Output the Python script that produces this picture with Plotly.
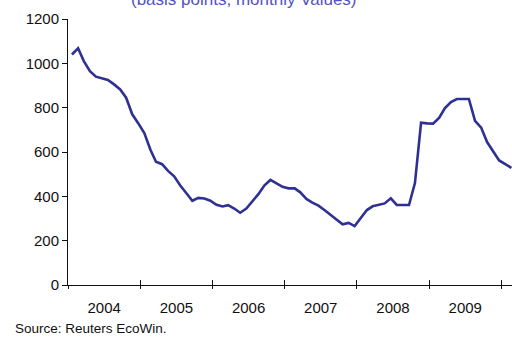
import pandas as pd
import plotly.graph_objects as go

# Monthly spread values, Jan 2004 - Feb 2010 (basis points)
months = pd.date_range("2004-01-01", "2010-02-01", freq="MS") + pd.Timedelta(days=20)
spread_bp = [
    1040, 1068, 1010, 965, 940, 932, 925, 905, 882, 845, 770, 730,   # 2004
    685, 610, 556, 545, 515, 490, 450, 415, 380, 393, 390, 380,      # 2005
    362, 354, 360, 345, 326, 345, 375, 410, 450, 474, 458, 443,      # 2006
    436, 436, 418, 388, 372, 358, 338, 316, 295, 274, 280, 266,      # 2007
    302, 338, 355, 361, 368, 391, 361, 361, 361, 460, 732, 729,      # 2008
    728, 755, 797, 825, 839, 839, 839, 740, 710, 645, 605, 562,      # 2009
    545, 528,                                                        # 2010
]
y_ticks = [0, 200, 400, 600, 800, 1000, 1200]
subtitle = "(basis points, monthly Values)"
source = "Source: Reuters EcoWin."

x_start, x_end = "2004-01-01", "2010-02-24"
line_color = "#2e3192"
text_font = dict(family="Liberation Sans, Arial, sans-serif", size=15, color="#111111")

fig = go.Figure()
fig.add_trace(go.Scatter(
    x=list(months), y=spread_bp, mode="lines",
    line=dict(color=line_color, width=2.6),
    hoverinfo="skip", showlegend=False,
))
# empty trace carrying the inner half of the year ticks
fig.add_trace(go.Scatter(x=[], y=[], xaxis="x2", showlegend=False, hoverinfo="skip"))

fig.update_layout(
    width=512, height=338,
    margin=dict(l=68, r=0, t=19, b=53),
    paper_bgcolor="white", plot_bgcolor="white",
    xaxis=dict(
        type="date", range=[x_start, x_end],
        tick0="2004-01-01", dtick="M12", tickformat="%Y", ticklabelmode="period",
        ticks="outside", ticklen=3, tickcolor="#111111", tickwidth=1,
        ticklabelstandoff=6,
        showline=True, linecolor="#111111", linewidth=1,
        showgrid=False, zeroline=False, tickfont=text_font,
    ),
    xaxis2=dict(
        type="date", range=[x_start, x_end], overlaying="x", anchor="y", side="bottom",
        tick0="2004-01-01", dtick="M12",
        ticks="inside", ticklen=5, tickcolor="#111111", tickwidth=1,
        showticklabels=False, showline=False, showgrid=False, zeroline=False,
    ),
    yaxis=dict(
        range=[0, 1200], tickvals=y_ticks,
        ticks="outside", ticklen=5, tickcolor="#111111", tickwidth=1,
        showline=True, linecolor="#111111", linewidth=1,
        showgrid=False, zeroline=False, tickfont=text_font,
    ),
    annotations=[
        dict(text=subtitle, xref="paper", yref="paper", x=0.396, y=1,
             xanchor="center", yanchor="bottom", yshift=8, showarrow=False,
             font=dict(family="Liberation Sans, Arial, sans-serif", size=17, color="#5252c4")),
        dict(text=source, xref="paper", yref="paper", x=-0.125, y=0,
             xanchor="left", yanchor="top", yshift=-34, showarrow=False,
             font=dict(family="Liberation Sans, Arial, sans-serif", size=13.5, color="#111111")),
    ],
)

fig.write_html("out.html")
